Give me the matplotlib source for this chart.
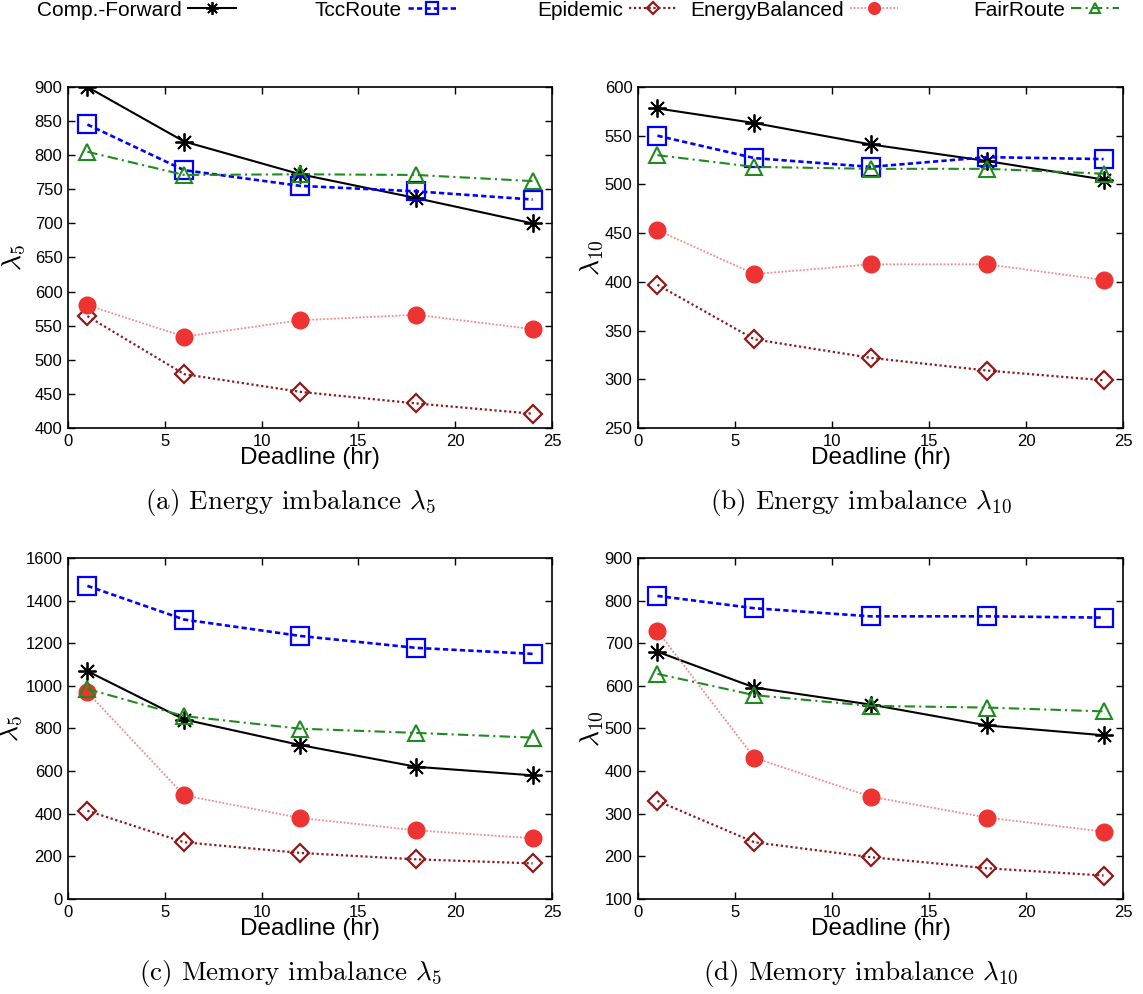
import matplotlib
matplotlib.use('Agg')
import matplotlib.pyplot as plt
from matplotlib.lines import Line2D

plt.rcParams['font.family'] = ['Liberation Sans', 'DejaVu Sans']
plt.rcParams['mathtext.fontset'] = 'cm'

deadline = [1, 6, 12, 18, 24]
methods = ['Comp.-Forward', 'TccRoute', 'Epidemic', 'EnergyBalanced', 'FairRoute']

# energy imbalance, lambda_5
energy_l5 = {
    'Comp.-Forward': [900, 820, 772, 737, 700],
    'TccRoute': [845, 778, 755, 747, 735],
    'Epidemic': [564, 479, 453, 436, 421],
    'EnergyBalanced': [580, 534, 558, 566, 545],
    'FairRoute': [805, 771, 772, 771, 762],
}
# energy imbalance, lambda_10
energy_l10 = {
    'Comp.-Forward': [578, 563, 541, 524, 505],
    'TccRoute': [550, 527, 518, 528, 526],
    'Epidemic': [397, 341, 322, 309, 299],
    'EnergyBalanced': [453, 408, 418, 418, 402],
    'FairRoute': [530, 518, 516, 516, 511],
}
# memory imbalance, lambda_5
memory_l5 = {
    'Comp.-Forward': [1069, 842, 722, 620, 580],
    'TccRoute': [1469, 1311, 1234, 1178, 1150],
    'Epidemic': [414, 266, 216, 186, 167],
    'EnergyBalanced': [970, 486, 380, 322, 285],
    'FairRoute': [985, 858, 799, 779, 757],
}
# memory imbalance, lambda_10
memory_l10 = {
    'Comp.-Forward': [680, 596, 556, 507, 484],
    'TccRoute': [811, 782, 763, 763, 760],
    'Epidemic': [330, 233, 198, 172, 155],
    'EnergyBalanced': [729, 431, 340, 291, 258],
    'FairRoute': [628, 578, 553, 549, 540],
}

styles = {
    'Comp.-Forward': dict(color='black', ls='-', lw=1.5, marker=(8, 2, 0), ms=13,
                          mew=1.3, mec='black'),
    'TccRoute': dict(color='#0000ff', ls=(0, (2, 1.2)), lw=1.9, marker='s', ms=13,
                     mfc='none', mew=1.6, mec='#0000ff'),
    'Epidemic': dict(color='#8b1a1a', ls=(0, (1, 1.2)), lw=1.6, marker='D', ms=9,
                     mfc='none', mew=1.6, mec='#8b1a1a'),
    'EnergyBalanced': dict(color='#f28a8a', ls=(0, (1, 1)), lw=1.3, marker='o', ms=12,
                           mfc='#ee3333', mec='#ee3333'),
    'FairRoute': dict(color='#1f8b1f', ls=(0, (5, 2, 1, 2)), lw=1.5, marker='^', ms=11,
                      mfc='none', mew=1.5, mec='#1f8b1f'),
}

# data, axes rect, y range, y step, y label, label x offset, caption
panels = [
    (energy_l5, [0.0595, 0.5694, 0.4234, 0.3431], (400, 900), 50, r'$\lambda_5$', -0.083,
     r'(a) Energy imbalance $\lambda_5$'),
    (energy_l10, [0.5582, 0.5694, 0.4243, 0.3431], (250, 600), 50, r'$\lambda_{10}$', -0.066,
     r'(b) Energy imbalance $\lambda_{10}$'),
    (memory_l5, [0.0595, 0.0956, 0.4234, 0.3431], (0, 1600), 200, r'$\lambda_5$', -0.088,
     r'(c) Memory imbalance $\lambda_5$'),
    (memory_l10, [0.5582, 0.0956, 0.4243, 0.3431], (100, 900), 100, r'$\lambda_{10}$', -0.066,
     r'(d) Memory imbalance $\lambda_{10}$'),
]

fig = plt.figure(figsize=(11.43, 9.94), dpi=100)

for data, rect, ylim, ystep, ylab, labx, caption in panels:
    ax = fig.add_axes(rect)
    for m in methods:
        ax.plot(deadline, data[m], **styles[m])
    ax.set_xlim(0, 25)
    ax.set_ylim(*ylim)
    ax.set_xticks(range(0, 26, 5))
    ax.set_yticks(range(ylim[0], ylim[1] + 1, ystep))
    ax.tick_params(direction='in', top=True, right=True, length=5, width=1,
                   labelsize=12, pad=4)
    for s in ax.spines.values():
        s.set_linewidth(1.2)
    ax.set_xlabel('Deadline (hr)', fontsize=17.5, labelpad=-1)
    ax.set_ylabel(ylab, fontsize=20)
    ax.yaxis.set_label_coords(labx, 0.5)
    x0, y0, w, h = rect
    fig.text(x0 + w / 2 - 0.017, y0 - 0.075, caption, ha='center', va='center',
             fontsize=19.5, family='cmr10')

# legend across the top: text right-aligned, sample to the right of it
legend_right = [236, 456, 677, 898, 1119]
for m, xr in zip(methods, legend_right):
    h = Line2D([], [], **styles[m])
    fig.legend([h], [m], loc='center right', bbox_to_anchor=(xr / 1143, 1 - 10 / 994),
               markerfirst=False, frameon=False, fontsize=15, handlelength=2.3,
               handletextpad=0.3, borderpad=0, borderaxespad=0, markerscale=0.7)

fig.savefig('out.png', dpi=100)
plt.close(fig)
